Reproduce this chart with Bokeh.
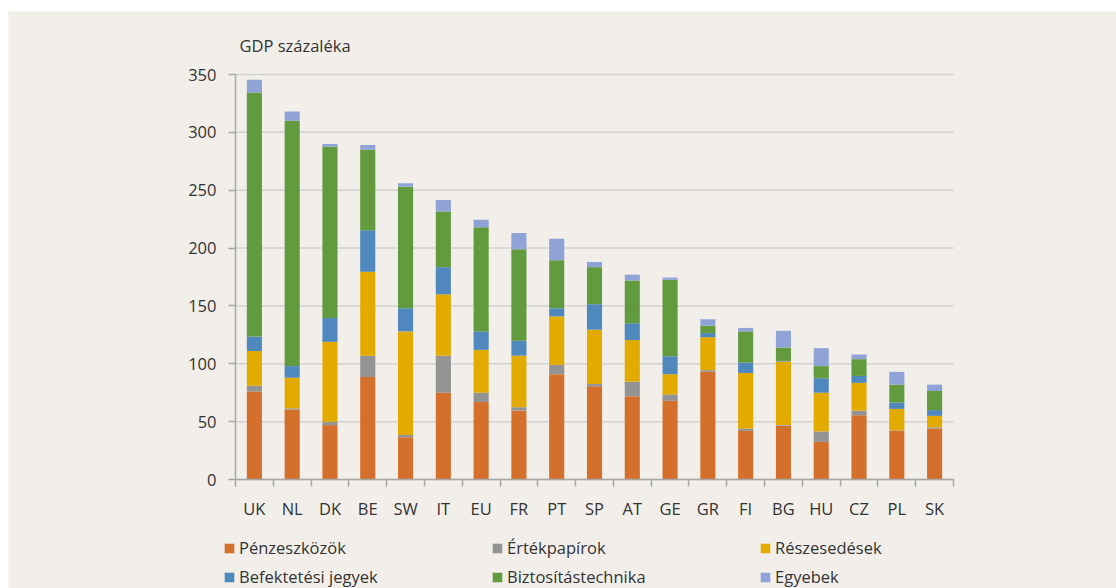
from bokeh.plotting import figure
from bokeh.models import (Range1d, FixedTicker, Legend, LegendItem, Label,
                          ColumnDataSource)
from bokeh.embed import file_html
from bokeh.resources import INLINE

countries = ["UK", "NL", "DK", "BE", "SW", "IT", "EU", "FR", "PT", "SP",
             "AT", "GE", "GR", "FI", "BG", "HU", "CZ", "PL", "SK"]
penzeszkozok = [76, 60.5, 47, 88.5, 36.5, 75, 67, 59.5, 91, 80.5,
                72, 68, 93, 42, 46.5, 32.5, 55.5, 42, 44]
ertekpapirok = [5, 1, 3, 18.5, 2, 32, 8, 3, 8, 2,
                12.5, 5.5, 1.5, 2, 0.5, 9, 4, 0.5, 1]
reszesedesek = [30, 26.5, 69, 72.5, 89.5, 53, 37, 44.5, 42, 47,
                36, 17.5, 28.5, 48, 55, 33.5, 24, 18.5, 10]
befektetesi = [12.5, 10, 20.5, 36, 20, 23.5, 16, 13, 7, 22,
               14.5, 15.5, 3.5, 9, 0.5, 12.5, 6, 5.5, 5]
biztositas = [211, 212, 148, 69.5, 105, 48, 90, 79, 41.5, 32,
              37, 66, 6.5, 27, 11.5, 10.5, 14.5, 15.5, 16.5]
egyebek = [11, 8, 2.5, 4, 3, 10, 6.5, 14, 18.5, 4.5,
           5, 2, 5.5, 3, 14.5, 15.5, 4, 11, 5.5]

series_names = ["Pénzeszközök", "Értékpapírok", "Részesedések",
                "Befektetési jegyek", "Biztosítástechnika", "Egyebek"]
colors = ["#D4702B", "#939393", "#E3AB00", "#4F88BD", "#629A3E", "#8FA3D6"]
y_ticks = [0, 50, 100, 150, 200, 250, 300, 350]
y_max = 350

BG = "#F2EFEB"
TXT = "#333333"
AX = "#A6A6A6"
FONT = "Open Sans"
FS = "16.5px"

# page geometry (pixels inside the figure)
W, H = 1108, 577
plot_left, plot_right = 227, 945
plot_top, plot_bottom = 63, 468
n = len(countries)
px_x = (plot_right - plot_left) / n
px_y = (plot_bottom - plot_top) / y_max
x_start = -plot_left / px_x
x_end = n + (W - plot_right) / px_x
y_end = y_max + plot_top / px_y
y_start = -(H - plot_bottom) / px_y

keys = ["s0", "s1", "s2", "s3", "s4", "s5"]
data = dict(x=[i + 0.5 for i in range(n)])
for k, arr in zip(keys, [penzeszkozok, ertekpapirok, reszesedesek,
                         befektetesi, biztositas, egyebek]):
    data[k] = arr
source = ColumnDataSource(data)

p = figure(width=W, height=H, output_backend="svg", toolbar_location=None,
           x_range=Range1d(x_start, x_end), y_range=Range1d(y_start, y_end),
           min_border=0, min_border_left=0, min_border_right=0,
           min_border_top=0, min_border_bottom=0, margin=(11, 0, 0, 8))
p.background_fill_color = BG
p.border_fill_color = BG
p.outline_line_color = None
p.xgrid.grid_line_color = None
p.ygrid.grid_line_color = None

# horizontal gridlines across the plot area only
p.segment(x0=[0] * len(y_ticks), x1=[n] * len(y_ticks), y0=y_ticks, y1=y_ticks,
          line_color="#D2D2D2", line_width=1.5)

renderers = p.vbar_stack(keys, x="x", width=0.4, color=colors, source=source,
                         line_color=None)

# x axis fixed at y=0: labels at category centres, tick marks at boundaries
xa = p.xaxis[0]
xa.fixed_location = 0
xa.bounds = (0, n)
xa.ticker = FixedTicker(ticks=[i + 0.5 for i in range(n)],
                        minor_ticks=list(range(n + 1)))
xa.major_label_overrides = {i + 0.5: c for i, c in enumerate(countries)}
xa.major_tick_out = 0
xa.major_tick_in = 0
xa.minor_tick_out = 7
xa.minor_tick_in = 0
xa.minor_tick_line_color = AX
xa.minor_tick_line_width = 1.5
xa.axis_line_color = AX
xa.axis_line_width = 1.5
xa.major_label_text_font = FONT
xa.major_label_text_font_size = FS
xa.major_label_text_color = TXT
xa.major_label_standoff = 10

ya = p.yaxis[0]
ya.fixed_location = 0
ya.bounds = (0, y_max)
ya.ticker = FixedTicker(ticks=y_ticks)
ya.major_tick_out = 7
ya.major_tick_in = 0
ya.minor_tick_out = 0
ya.minor_tick_in = 0
ya.major_tick_line_color = AX
ya.major_tick_line_width = 1.5
ya.axis_line_color = AX
ya.axis_line_width = 1.5
ya.major_label_text_font = FONT
ya.major_label_text_font_size = FS
ya.major_label_text_color = TXT
ya.major_label_standoff = 12

# caption above the axis
p.add_layout(Label(x=231, y=H - 34, x_units="screen", y_units="screen",
                   text="GDP százaléka", text_font=FONT, text_font_size=FS,
                   text_color=TXT, text_baseline="middle"))

# legend: three columns of two entries
col_x = [215, 483, 751]
for c in range(3):
    items = [LegendItem(label=series_names[c], renderers=[renderers[c]]),
             LegendItem(label=series_names[c + 3], renderers=[renderers[c + 3]])]
    lg = Legend(items=items, location=(col_x[c], 0), orientation="vertical",
                glyph_width=12, glyph_height=12, label_standoff=4,
                label_height=22, spacing=6, padding=0, margin=0,
                label_text_font=FONT, label_text_font_size=FS,
                label_text_color=TXT, background_fill_alpha=0,
                border_line_alpha=0)
    p.add_layout(lg, "center")

open("out.html", "w").write(file_html(p, INLINE))
